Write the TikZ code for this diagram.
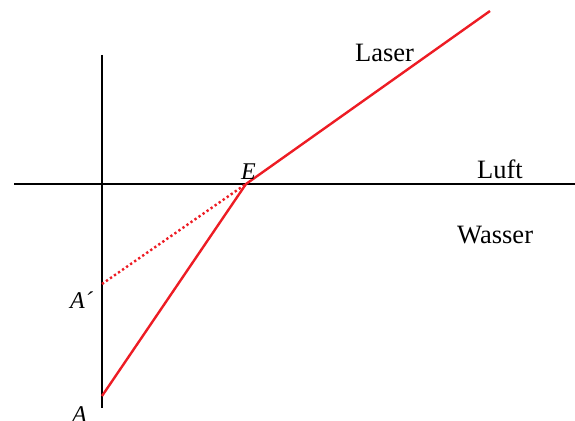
\documentclass[tikz,border=0pt]{standalone}
\usepackage{fontspec}
\setmainfont{Liberation Serif}
\definecolor{rayred}{RGB}{237,28,36}
\begin{document}
\begin{tikzpicture}[x=1pt,y=-1pt,
  axis/.style={line width=2.8pt,black},
  ray/.style={line width=2.4pt,rayred},
  virt/.style={ray,dash pattern=on 2.3pt off 2.6pt},
  lbl/.style={font=\fontsize{26.5}{29}\selectfont,inner sep=0pt,anchor=base west},
  pt/.style={font=\fontsize{24}{27}\selectfont\itshape,inner sep=0pt,anchor=base west}]
\useasboundingbox (0,0) rectangle (575,420);
\coordinate (hl) at (14,184);
\coordinate (hr) at (575,184);
\coordinate (vt) at (102,55);
\coordinate (vb) at (102,408);
\coordinate (E) at (246,184);
\coordinate (A) at (102,396);
\coordinate (Ap) at (102,284);
\coordinate (L) at (490,11);
\draw[axis] (hl) -- (hr);
\draw[axis] (vt) -- (vb);
\draw[ray] (A) -- (E) -- (L);
\draw[virt] (Ap) -- (E);
\node[lbl] (laser) at (355,62) {Laser};
\node[lbl] (luft) at (477,178) {Luft};
\node[lbl] (wasser) at (457,243) {Wasser};
\node[pt] (Elbl) at (241,179) {E};
\node[pt] (Aplbl) at (70,308) {A\char"00B4};
\node[pt] (Albl) at (72,422) {A};
\end{tikzpicture}
\end{document}
